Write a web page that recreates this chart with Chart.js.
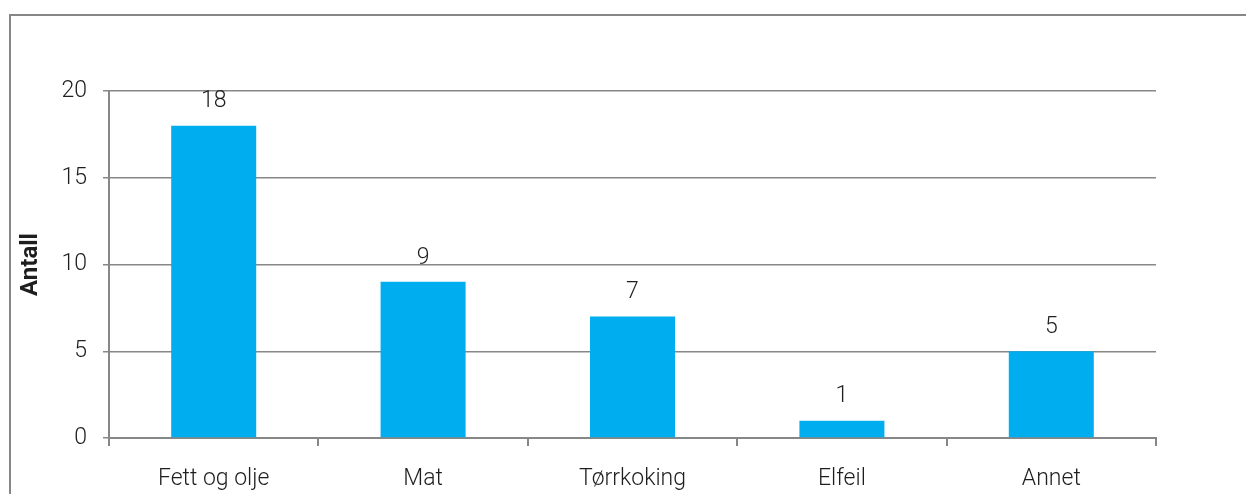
<!DOCTYPE html>
<html>
<head>
<meta charset="utf-8">
<script src="https://cdn.jsdelivr.net/npm/chart.js@4/dist/chart.umd.min.js"></script>
<style>
  html, body { margin: 0; padding: 0; background: #fff; overflow: hidden; }
  #frame {
    position: absolute; left: 9px; top: 14px; width: 1300px; height: 600px;
    border-left: 2px solid #878787; border-top: 2px solid #878787;
  }
  #wrap { position: absolute; left: 0; top: 0; width: 1246px; height: 494px; }
</style>
</head>
<body>
<div id="frame"></div>
<div id="wrap"><canvas id="myChart"></canvas></div>
<script>
// brannårsaker, antall per kategori
const categories = ['Fett og olje', 'Mat', 'Tørrkoking', 'Elfeil', 'Annet']
const antall = [18, 9, 7, 1, 5]
const yTicks = [0, 5, 10, 15, 20]

const barColor = '#00aeef'
const lineColor = '#878787'
const textColor = '#1e1e1e'
const fontName = 'Roboto, "DejaVu Sans", sans-serif'

// tall over hver søyle
const valueLabels = {
  id: 'valueLabels',
  afterDatasetsDraw(chart) {
    const ctx = chart.ctx
    const meta = chart.getDatasetMeta(0)
    ctx.save()
    ctx.font = '300 23px ' + fontName
    ctx.fillStyle = textColor
    ctx.textAlign = 'center'
    ctx.textBaseline = 'middle'
    meta.data.forEach((bar, i) => {
      ctx.fillText(antall[i], bar.x, bar.y - 24)
    })
    ctx.restore()
  }
}

new Chart('myChart', {
  type: 'bar',
  data: {
    labels: categories,
    datasets: [{
      data: antall,
      backgroundColor: barColor,
      categoryPercentage: 1,
      barPercentage: 0.406
    }]
  },
  options: {
    responsive: true,
    maintainAspectRatio: false,
    animation: false,
    layout: { padding: { top: 91, right: 90, bottom: 0, left: 0 } },
    plugins: { legend: { display: false }, tooltip: { enabled: false } },
    scales: {
      x: {
        afterFit(scale) { scale.height = 56 },
        offset: true,
        grid: {
          offset: true,
          drawOnChartArea: false,
          drawTicks: true,
          tickLength: 8,
          color: lineColor,
          lineWidth: 2
        },
        border: { color: lineColor, width: 2 },
        ticks: {
          color: textColor,
          font: { family: fontName, size: 23, weight: 300 },
          padding: 19,
          maxRotation: 0
        }
      },
      y: {
        afterFit(scale) { scale.width = 109 },
        min: 0,
        max: 20,
        afterBuildTicks(scale) { scale.ticks = yTicks.map(v => ({ value: v })) },
        grid: {
          color: lineColor,
          lineWidth: 1.5,
          drawTicks: true,
          tickLength: 6
        },
        border: { color: lineColor, width: 2 },
        ticks: {
          color: textColor,
          font: { family: fontName, size: 23, weight: 300 },
          padding: 16
        },
        title: {
          display: true,
          text: 'Antall',
          color: textColor,
          font: { family: fontName, size: 24, weight: 'bold' },
          padding: { top: 17, bottom: 0 }
        }
      }
    }
  },
  plugins: [valueLabels]
})
</script>
</body>
</html>
